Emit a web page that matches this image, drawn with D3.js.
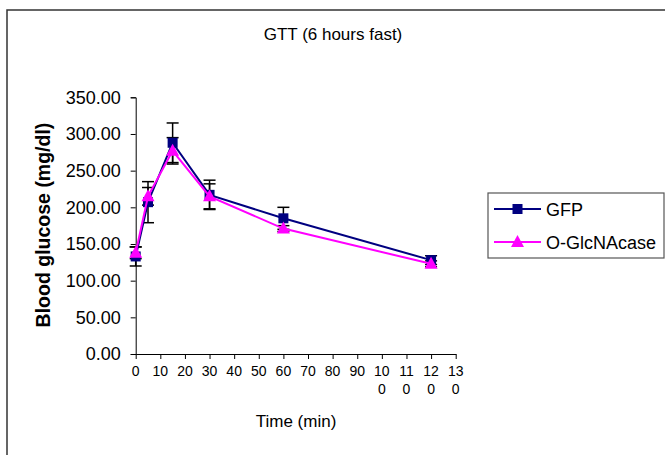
<!DOCTYPE html>
<html>
<head>
<meta charset="utf-8">
<script src="https://cdn.jsdelivr.net/npm/d3@7"></script>
<style>
body { margin: 0; background: #fff; }
svg { font-family: "Liberation Sans", Arial, sans-serif; }
</style>
</head>
<body>
<svg width="665" height="455"></svg>
<script>
// time points (min)
var times = [0, 5, 15, 30, 60, 120];
var gfp = [133, 207, 288, 217, 185, 128];
var gfpErr = [13, 28, 27, 20, 15, 6];
var oga = [138, 215, 277, 215, 171, 123];
var ogaErr = [8, 12, 18, 17, 4, 4];
var seriesNames = ['GFP', 'O-GlcNAcase'];
var xTicks = [0, 10, 20, 30, 40, 50, 60, 70, 80, 90, 100, 110, 120, 130];
var yTicks = [0, 50, 100, 150, 200, 250, 300, 350];

const svg = d3.select('svg');

// chart area border
svg.append('rect')
  .attr('x', 7).attr('y', 10)
  .attr('width', 700).attr('height', 500)
  .attr('fill', 'none')
  .attr('stroke', '#333')
  .attr('stroke-width', 1.5);

const xScale = d3.scaleLinear().domain([0, 130]).range([135.7, 455.7]);
const yScale = d3.scaleLinear().domain([0, 350]).range([354, 97.3]);

// y axis
svg.append('g')
  .attr('transform', 'translate(135.7,0)')
  .call(d3.axisLeft(yScale).tickValues(yTicks).tickSize(5).tickPadding(10)
    .tickFormat(d3.format('.2f')))
  .call(g => g.selectAll('text').attr('font-size', 18).attr('fill', '#000').attr('font-family', null))
  .call(g => g.selectAll('line,path').attr('stroke', '#000'));

// x axis
svg.append('g')
  .attr('transform', 'translate(0,354)')
  .call(d3.axisBottom(xScale).tickValues(xTicks).tickSize(5).tickSizeOuter(0).tickFormat(''))
  .call(g => g.selectAll('line,path').attr('stroke', '#000'));

xTicks.forEach(function(t) {
  var s = String(t);
  var lines = s.length > 2 ? [s.slice(0, 2), s.slice(2)] : [s];
  lines.forEach(function(l, i) {
    svg.append('text')
      .attr('x', xScale(t))
      .attr('y', 376 + i * 18)
      .attr('text-anchor', 'middle')
      .attr('font-size', 14)
      .text(l);
  });
});

// titles
svg.append('text')
  .attr('x', 333).attr('y', 40)
  .attr('text-anchor', 'middle')
  .attr('font-size', 17)
  .text('GTT (6 hours fast)');

svg.append('text')
  .attr('x', 296).attr('y', 427)
  .attr('text-anchor', 'middle')
  .attr('font-size', 17)
  .text('Time (min)');

svg.append('text')
  .attr('transform', 'translate(50,225) rotate(-90)')
  .attr('text-anchor', 'middle')
  .attr('font-size', 19.5)
  .attr('font-weight', 'bold')
  .text('Blood glucose (mg/dl)');

var series = [
  { name: seriesNames[0], vals: gfp, err: gfpErr, color: '#000080', shape: 'square' },
  { name: seriesNames[1], vals: oga, err: ogaErr, color: '#ff00ff', shape: 'triangle' }
];

const line = d3.line()
  .x((d, i) => xScale(times[i]))
  .y(d => yScale(d));

function marker(g, shape, x, y, color) {
  if (shape === 'square') {
    g.append('rect').attr('x', x - 5).attr('y', y - 5)
      .attr('width', 10).attr('height', 10).attr('fill', color);
  } else {
    g.append('path')
      .attr('d', `M${x},${y - 7}L${x + 6.5},${y + 5}L${x - 6.5},${y + 5}Z`)
      .attr('fill', color);
  }
}

// error bars
series.forEach(function(s) {
  var g = svg.append('g').attr('stroke', '#000').attr('stroke-width', 1.5);
  s.vals.forEach(function(v, i) {
    var x = xScale(times[i]);
    var y1 = yScale(v - s.err[i]), y2 = yScale(v + s.err[i]);
    g.append('line').attr('x1', x).attr('x2', x).attr('y1', y1).attr('y2', y2);
    g.append('line').attr('x1', x - 6).attr('x2', x + 6).attr('y1', y1).attr('y2', y1);
    g.append('line').attr('x1', x - 6).attr('x2', x + 6).attr('y1', y2).attr('y2', y2);
  });
});

series.forEach(function(s) {
  svg.append('path')
    .datum(s.vals)
    .attr('d', line)
    .attr('fill', 'none')
    .attr('stroke', s.color)
    .attr('stroke-width', 2);
  var g = svg.append('g');
  s.vals.forEach(function(v, i) {
    marker(g, s.shape, xScale(times[i]), yScale(v), s.color);
  });
});

// legend
svg.append('rect')
  .attr('x', 488).attr('y', 193)
  .attr('width', 176).attr('height', 65)
  .attr('fill', '#fff')
  .attr('stroke', '#555')
  .attr('stroke-width', 1.2);

series.forEach(function(s, i) {
  var y = 209 + i * 33;
  var g = svg.append('g');
  g.append('line').attr('x1', 494).attr('x2', 541).attr('y1', y).attr('y2', y)
    .attr('stroke', s.color).attr('stroke-width', 2);
  marker(g, s.shape, 517.5, y, s.color);
  g.append('text')
    .attr('x', 546).attr('y', y + 6.5)
    .attr('font-size', 18)
    .text(s.name);
});
</script>
</body>
</html>
